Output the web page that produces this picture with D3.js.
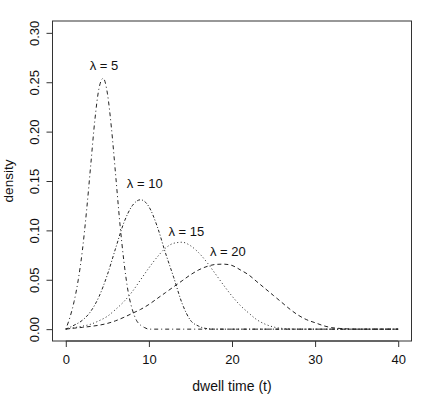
<!DOCTYPE html>
<html>
<head>
<meta charset="utf-8">
<script src="https://cdn.jsdelivr.net/npm/d3@7"></script>
<style>
  body { margin: 0; background: #fff; }
  svg text { font-family: "Liberation Sans", Arial, sans-serif; fill: #111; }
</style>
</head>
<body>
<svg id="chart"></svg>
<script>
// dwell time grids and densities
const t5 = [0, 0.5, 1, 1.5, 2, 2.5, 3, 3.5, 4, 4.5, 5, 5.5, 6, 6.5, 7, 7.5, 8, 8.5, 9, 9.5, 10, 40];
const density5 = [0, 0.012, 0.028, 0.05, 0.08, 0.12, 0.166, 0.212, 0.244, 0.254, 0.239, 0.203, 0.156, 0.108, 0.068, 0.038, 0.02, 0.009, 0.004, 0.0015, 0, 0];

const t10 = [0, 1, 2, 3, 4, 5, 6, 7, 8, 9, 10, 11, 12, 13, 14, 15, 16, 17, 18, 40];
const density10 = [0, 0.004, 0.009, 0.018, 0.033, 0.055, 0.082, 0.108, 0.125, 0.131, 0.124, 0.104, 0.077, 0.052, 0.026, 0.009, 0.003, 0.0005, 0, 0];

const t15 = [0, 1, 2, 3, 4, 5, 6, 7, 8, 9, 10, 11, 12, 13, 14, 15, 16, 17, 18, 19, 20, 21, 22, 23, 24, 25, 26, 27, 28, 40];
const density15 = [0, 0.0015, 0.003, 0.005, 0.0085, 0.013, 0.02, 0.028, 0.038, 0.05, 0.062, 0.073, 0.082, 0.087, 0.088, 0.0845, 0.0773, 0.0675, 0.056, 0.0444, 0.0335, 0.024, 0.0164, 0.0095, 0.005, 0.0022, 0.0008, 0.0002, 0, 0];

const t20 = [0, 1, 2, 3, 4, 5, 6, 7, 8, 9, 10, 11, 12, 13, 14, 15, 16, 17, 18, 19, 20, 21, 22, 23, 24, 25, 26, 27, 28, 29, 30, 31, 32, 33, 34, 35, 40];
const density20 = [0, 0.001, 0.0018, 0.0028, 0.004, 0.0058, 0.0085, 0.012, 0.016, 0.02, 0.025, 0.031, 0.037, 0.043, 0.049, 0.055, 0.06, 0.0635, 0.0655, 0.0658, 0.0645, 0.06, 0.055, 0.048, 0.041, 0.034, 0.027, 0.02, 0.014, 0.0095, 0.0065, 0.0035, 0.0015, 0.0007, 0.0002, 0, 0];

const lambdas = ["5", "10", "15", "20"];
const labelT = [4.6, 9.5, 14.5, 19.5];
const labelDensity = [0.267, 0.148, 0.099, 0.0785];

const xTicks = [0, 10, 20, 30, 40];
const yTicks = [0, 0.05, 0.10, 0.15, 0.20, 0.25, 0.30];

const width = 425, height = 398;
const margin = { top: 21, right: 13.5, bottom: 57, left: 52.5 };

const svg = d3.select("#chart").attr("width", width).attr("height", height);

// R-style 4% padding on both axes
const x = d3.scaleLinear().domain([-1.6, 41.6]).range([margin.left, width - margin.right]);
const y = d3.scaleLinear().domain([-0.012, 0.312]).range([height - margin.bottom, margin.top]);

const curves = [
  { t: t5, d: density5, dash: "1,3,4,3" },
  { t: t10, d: density10, dash: "3,2,1,2" },
  { t: t15, d: density15, dash: "1,2.5" },
  { t: t20, d: density20, dash: "4,3" }
];

const line = d3.line()
  .x(p => x(p[0]))
  .y(p => y(p[1]))
  .curve(d3.curveMonotoneX);

svg.selectAll(".curve")
  .data(curves)
  .join("path")
    .attr("class", "curve")
    .attr("fill", "none")
    .attr("stroke", "#222")
    .attr("stroke-width", 1)
    .attr("stroke-dasharray", c => c.dash)
    .attr("d", c => line(c.t.map((v, i) => [v, c.d[i]])));

// plot box
svg.append("rect")
  .attr("x", margin.left)
  .attr("y", margin.top)
  .attr("width", width - margin.left - margin.right)
  .attr("height", height - margin.top - margin.bottom)
  .attr("fill", "none")
  .attr("stroke", "#333");

// x axis
const xAxis = svg.append("g")
  .attr("transform", `translate(0,${height - margin.bottom})`)
  .call(d3.axisBottom(x).tickValues(xTicks).tickSize(6).tickSizeOuter(0).tickPadding(8));
xAxis.select(".domain").attr("d", `M${x(0)},0H${x(40)}`).attr("stroke", "#333");
xAxis.selectAll(".tick line").attr("stroke", "#333");
xAxis.selectAll(".tick text")
  .attr("font-size", 13)
  .attr("font-family", "Liberation Sans, Arial, sans-serif")
  .attr("fill", "#111");

// y axis, labels parallel to axis like R
const yAxis = svg.append("g")
  .attr("transform", `translate(${margin.left},0)`)
  .call(d3.axisLeft(y).tickValues(yTicks).tickSize(6).tickSizeOuter(0).tickFormat(d3.format(".2f")));
yAxis.select(".domain").attr("d", `M0,${y(0)}V${y(0.30)}`).attr("stroke", "#333");
yAxis.selectAll(".tick line").attr("stroke", "#333");
yAxis.selectAll(".tick text")
  .attr("font-size", 13)
  .attr("font-family", "Liberation Sans, Arial, sans-serif")
  .attr("fill", "#111")
  .attr("x", null).attr("dy", null)
  .attr("text-anchor", "middle")
  .attr("transform", "translate(-14,0) rotate(-90)");

// axis titles
svg.append("text")
  .attr("x", x(20))
  .attr("y", 391)
  .attr("text-anchor", "middle")
  .attr("font-size", 14)
  .text("dwell time (t)");

svg.append("text")
  .attr("transform", `translate(13,${(margin.top + height - margin.bottom) / 2}) rotate(-90)`)
  .attr("text-anchor", "middle")
  .attr("font-size", 13.5)
  .text("density");

// curve labels
svg.selectAll(".lab")
  .data(lambdas)
  .join("text")
    .attr("class", "lab")
    .attr("x", (d, i) => x(labelT[i]))
    .attr("y", (d, i) => y(labelDensity[i]))
    .attr("dy", "0.35em")
    .attr("text-anchor", "middle")
    .attr("font-size", 13)
    .text(d => "λ = " + d);
</script>
</body>
</html>
